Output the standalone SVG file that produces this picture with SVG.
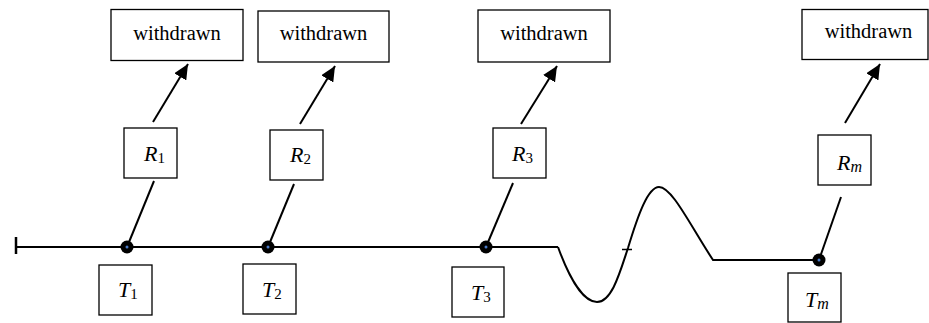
<svg xmlns="http://www.w3.org/2000/svg" width="929" height="323" viewBox="0 0 929 323">
<style>
.box{fill:#fff;stroke:#000;stroke-width:1.3}
.wt{font-family:"Liberation Serif",serif;font-size:20.5px;text-anchor:middle;fill:#000}
.m{font-family:"Liberation Serif",serif;font-size:22px;font-style:italic;fill:#000}
.s{font-style:normal;font-size:15px}
.ln{stroke:#000;stroke-width:2;fill:none}
.dot{fill:#000}
.dc{fill:#4a7bc8}
</style>
<defs>
<marker id="ah" markerUnits="userSpaceOnUse" markerWidth="16" markerHeight="14" refX="15" refY="7" orient="auto">
<path d="M0,0 L15,7 L0,14 Z" fill="#000"/>
</marker>
</defs>
<g id="connectors">
<line class="ln" x1="16" y1="237" x2="16" y2="254" style="stroke-width:2.5"/>
<line class="ln" x1="16" y1="247" x2="558" y2="247"/>
<path class="ln" d="M558,247 C570,280 584,302 597,302 C612,302 620,272 628,248 C638,215 648,187 659,187 C672,187 690,225 713,260 L819,260"/>
<line class="ln" x1="622" y1="249.5" x2="632" y2="249.5" style="stroke-width:1.5"/>
<line class="ln" x1="153" y1="122" x2="188" y2="64" marker-end="url(#ah)"/>
<line class="ln" x1="300" y1="124" x2="335" y2="66" marker-end="url(#ah)"/>
<line class="ln" x1="521" y1="124" x2="557" y2="66" marker-end="url(#ah)"/>
<line class="ln" x1="845" y1="123" x2="880" y2="64" marker-end="url(#ah)"/>
<line class="ln" x1="154" y1="181" x2="127" y2="247"/>
<line class="ln" x1="294" y1="184" x2="268" y2="247"/>
<line class="ln" x1="513" y1="183" x2="486" y2="247"/>
<line class="ln" x1="841" y1="197" x2="819" y2="260"/>
</g>
<g id="dot1"><circle class="dot" cx="127" cy="247" r="6.5"/><circle class="dc" cx="127" cy="247" r="1.5"/></g>
<g id="dot2"><circle class="dot" cx="268" cy="247" r="6.5"/><circle class="dc" cx="268" cy="247" r="1.5"/></g>
<g id="dot3"><circle class="dot" cx="486" cy="247" r="6.5"/><circle class="dc" cx="486" cy="247" r="1.5"/></g>
<g id="dotm"><circle class="dot" cx="819" cy="260" r="6.5"/><circle class="dc" cx="819" cy="260" r="1.5"/></g>
<g id="w1"><rect class="box" x="111" y="9.5" width="132" height="51"/><text class="wt" x="177" y="40">withdrawn</text></g>
<g id="w2"><rect class="box" x="258" y="11" width="131" height="51"/><text class="wt" x="323.5" y="40">withdrawn</text></g>
<g id="w3"><rect class="box" x="478" y="10" width="132" height="52"/><text class="wt" x="544" y="40">withdrawn</text></g>
<g id="wm"><rect class="box" x="802" y="9.5" width="126" height="50"/><text class="wt" x="868.5" y="38">withdrawn</text></g>
<g id="R1"><rect class="box" x="124" y="128" width="53" height="50"/><text class="m" x="144" y="161">R<tspan class="s" dy="2">1</tspan></text></g>
<g id="R2"><rect class="box" x="270" y="130" width="53" height="50"/><text class="m" x="290" y="162">R<tspan class="s" dy="2">2</tspan></text></g>
<g id="R3"><rect class="box" x="493" y="128" width="53" height="50"/><text class="m" x="512" y="161">R<tspan class="s" dy="2">3</tspan></text></g>
<g id="Rm"><rect class="box" x="818" y="135" width="53" height="50"/><text class="m" x="837" y="170">R<tspan style="font-size:16px" dy="2">m</tspan></text></g>
<g id="T1"><rect class="box" x="99" y="265" width="53" height="50"/><text class="m" x="118" y="297">T<tspan class="s" dy="2">1</tspan></text></g>
<g id="T2"><rect class="box" x="243" y="264" width="53" height="50"/><text class="m" x="262" y="297">T<tspan class="s" dy="2">2</tspan></text></g>
<g id="T3"><rect class="box" x="452" y="267" width="52" height="50"/><text class="m" x="471" y="300">T<tspan class="s" dy="2">3</tspan></text></g>
<g id="Tm"><rect class="box" x="788" y="273" width="53" height="49"/><text class="m" x="805" y="307">T<tspan style="font-size:16px" dy="2">m</tspan></text></g>
</svg>
